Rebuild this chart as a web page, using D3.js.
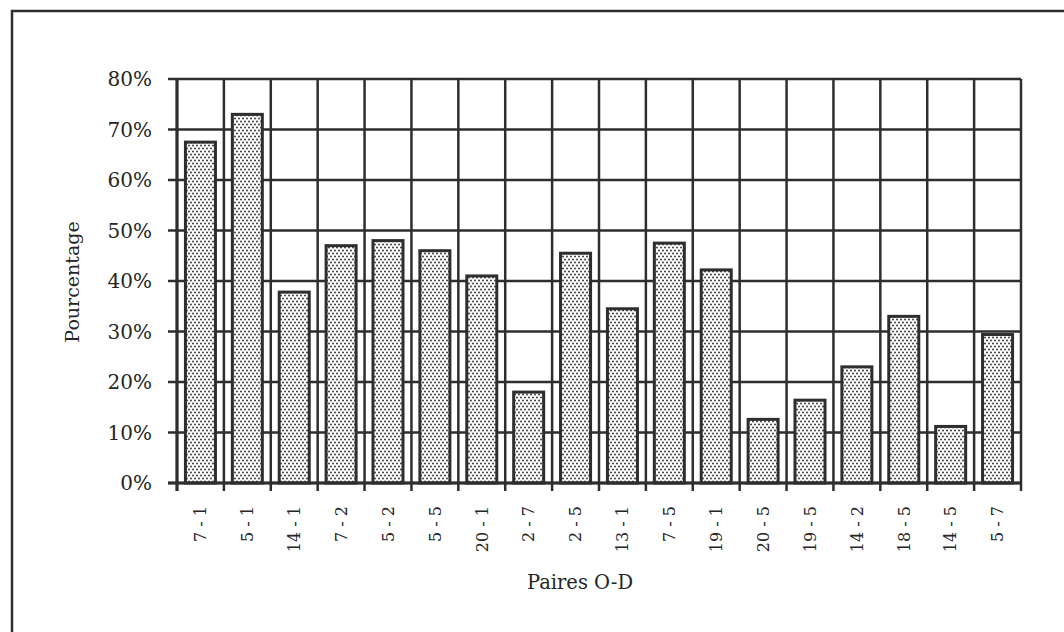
<!DOCTYPE html>
<html><head><meta charset="utf-8">
<script src="https://cdn.jsdelivr.net/npm/d3@7"></script>
<style>body{margin:0;background:#fff}svg{display:block}text{font-family:"DejaVu Serif","Liberation Serif",serif;fill:#262626}</style>
</head><body>
<svg id="c" width="1064" height="632"></svg>
<script>
const categories = ["7 - 1","5 - 1","14 - 1","7 - 2","5 - 2","5 - 5","20 - 1","2 - 7","2 - 5","13 - 1","7 - 5","19 - 1","20 - 5","19 - 5","14 - 2","18 - 5","14 - 5","5 - 7"];
const values = [67.5,73,37.8,47,48,46,41,18,45.5,34.5,47.5,42.2,12.6,16.4,23,33,11.2,29.4];
const yTicks = [0,10,20,30,40,50,60,70,80];
const yTitle = "Pourcentage";
const xTitle = "Paires O-D";

const svg = d3.select("#c");
const ink = "#2e2e2e";
const L = 177, R = 1021, T = 79, B = 483;

const defs = svg.append("defs");
const pat = defs.append("pattern").attr("id","dots").attr("patternUnits","userSpaceOnUse")
  .attr("width",4).attr("height",6);
pat.append("rect").attr("width",4).attr("height",6).attr("fill","#fff");
pat.append("circle").attr("cx",1).attr("cy",1.5).attr("r",0.95).attr("fill","#333");
pat.append("circle").attr("cx",3).attr("cy",4.5).attr("r",0.95).attr("fill","#333");

// outer frame
svg.append("path").attr("d","M12,632V11H1064").attr("fill","none").attr("stroke",ink).attr("stroke-width",2.5);

const x = d3.scaleBand().domain(categories).range([L,R]).paddingInner(0.36).paddingOuter(0.18);
const y = d3.scaleLinear().domain([0,80]).range([B,T]);
const step = x.step();
const gap = (step - x.bandwidth())/2;
const bounds = categories.map(c => x(c) - gap).concat([R]);

// horizontal gridlines + y ticks
svg.append("g").selectAll("line").data(yTicks).join("line")
  .attr("x1",L-9).attr("x2",R).attr("y1",d=>y(d)).attr("y2",d=>y(d))
  .attr("stroke",ink).attr("stroke-width",2.5);
// vertical gridlines + x ticks
svg.append("g").selectAll("line").data(bounds).join("line")
  .attr("x1",d=>d).attr("x2",d=>d).attr("y1",T).attr("y2",B+8)
  .attr("stroke",ink).attr("stroke-width",2.5);

// bars
svg.append("g").selectAll("rect").data(values).join("rect")
  .attr("x",(d,i)=>x(categories[i]))
  .attr("width",x.bandwidth())
  .attr("y",d=>y(d))
  .attr("height",d=>B-y(d))
  .attr("fill","url(#dots)")
  .attr("stroke",ink).attr("stroke-width",3);

// axis lines
svg.append("line").attr("x1",L-9).attr("x2",R).attr("y1",B).attr("y2",B).attr("stroke",ink).attr("stroke-width",3);
svg.append("line").attr("x1",L).attr("x2",L).attr("y1",T).attr("y2",B+8).attr("stroke",ink).attr("stroke-width",3);

// y labels
svg.append("g").selectAll("text").data(yTicks).join("text")
  .attr("x",152).attr("y",d=>y(d)).attr("dy","0.36em").attr("text-anchor","end")
  .attr("font-size",20).text(d=>d+"%");

// x labels
svg.append("g").selectAll("text").data(categories).join("text")
  .attr("transform",c=>`translate(${x(c)+x.bandwidth()/2},506) rotate(-90)`)
  .attr("dy","0.36em").attr("text-anchor","end").attr("font-size",16).text(c=>c);

svg.append("text").attr("transform","translate(72,282) rotate(-90)").attr("dy","0.36em")
  .attr("text-anchor","middle").attr("font-size",19).text(yTitle);
svg.append("text").attr("x",580).attr("y",589).attr("text-anchor","middle").attr("font-size",19.5).text(xTitle);
</script>
</body></html>
